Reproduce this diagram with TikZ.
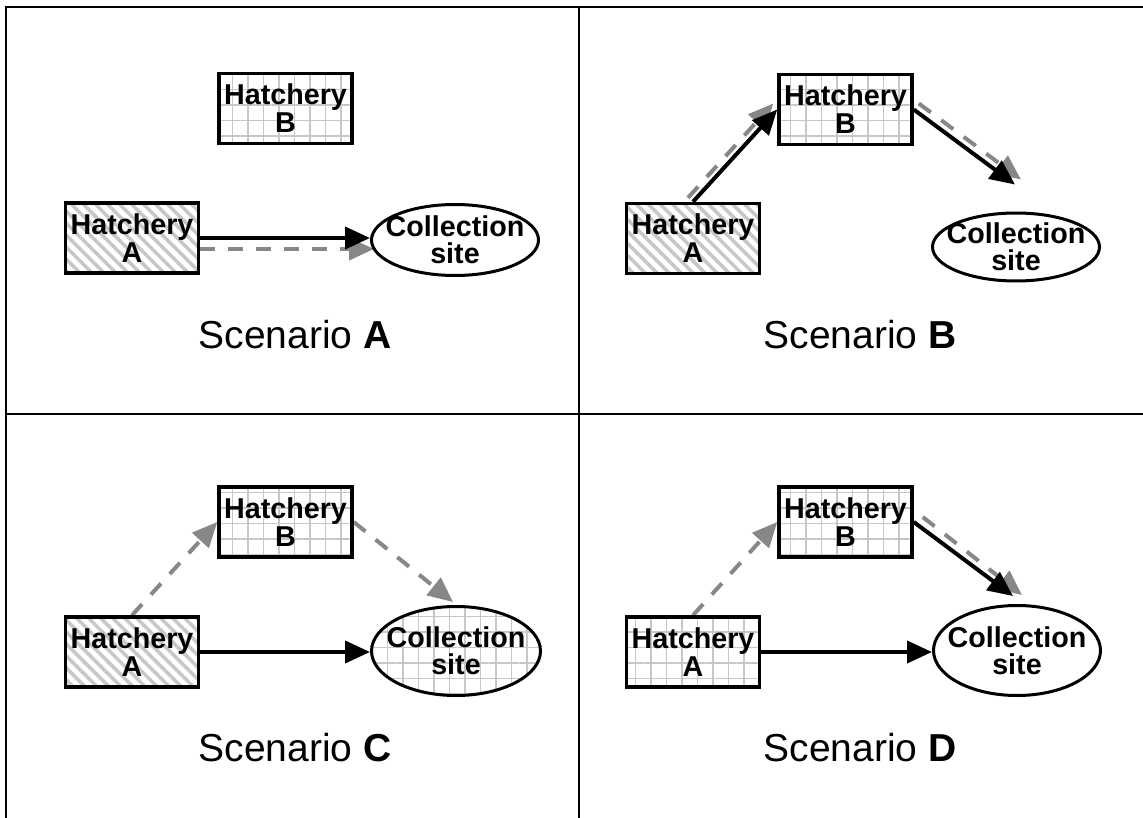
\documentclass[tikz,border=0pt]{standalone}
\usepackage{fontspec}
\setmainfont{Liberation Sans}
\usetikzlibrary{arrows.meta,patterns.meta,shapes.geometric,calc}
\pgfdeclarelayer{bg}
\pgfsetlayers{bg,main}
\begin{document}
\begin{tikzpicture}[x=1pt,y=-1pt,
  hbox/.style={draw, line width=3.5pt, rectangle, minimum width=133pt, minimum height=70pt, inner sep=0pt, align=center, font=\fontsize{28.7}{28}\selectfont\bfseries},
  stripes/.style={preaction={fill=white}, pattern={Lines[angle=-45,distance=8.5pt,line width=3.5pt]}, pattern color=black!22},
  gridfill/.style={preaction={fill=white}, pattern={Hatch[angle=0,distance=15.5pt,line width=1.6pt]}, pattern color=black!22},
  whitefill/.style={fill=white},
  site/.style={draw, ellipse, line width=3pt, inner xsep=-12pt, inner ysep=-2pt, minimum width=167pt, align=center, font=\fontsize{28.7}{27}\selectfont\bfseries},
  solidarrow/.style={line width=4pt, black, -{Triangle[length=25pt,width=22pt]}},
  grayarrow/.style={line width=4pt, black!47, dash pattern=on 15pt off 13pt, -{Triangle[length=25pt,width=22pt]}},
  scencap/.style={anchor=base, inner sep=0pt, font=\fontsize{39}{47}\selectfont},
  divider/.style={line width=2.5pt, black}
]
\useasboundingbox (0,0) rectangle (1143,818);

% ---------- Scenario A ----------
\node[hbox, gridfill] (hbA) at (285.5,108.5) {Hatchery\\B};
\node[hbox, stripes] (haA) at (132,238) {Hatchery\\A};
\node[site, whitefill, minimum height=71pt] (csA) at (455,240) {Collection\\site};
\node[scencap] (capA) at (295,348) {Scenario \textbf{A}};

% ---------- Scenario B ----------
\node[hbox, gridfill] (hbB) at (845.5,109.5) {Hatchery\\B};
\node[hbox, stripes] (haB) at (693,238.5) {Hatchery\\A};
\node[site, whitefill, minimum height=68pt] (csB) at (1016,247) {Collection\\site};
\node[scencap] (capB) at (860,348) {Scenario \textbf{B}};

% ---------- Scenario C ----------
\node[hbox, gridfill] (hbC) at (285.5,522) {Hatchery\\B};
\node[hbox, stripes] (haC) at (132,652) {Hatchery\\A};
\node[site, gridfill, minimum height=89pt, minimum width=169pt] (csC) at (456,651) {Collection\\site};
\node[scencap] (capC) at (295,761) {Scenario \textbf{C}};

% ---------- Scenario D ----------
\node[hbox, gridfill] (hbD) at (845.5,522) {Hatchery\\B};
\node[hbox, gridfill] (haD) at (693,652) {Hatchery\\A};
\node[site, whitefill, minimum height=90pt] (csD) at (1017,650.5) {Collection\\site};
\node[scencap] (capD) at (860,761) {Scenario \textbf{D}};

\begin{pgfonlayer}{bg}
  % frame
  \draw[divider] (6,818) -- (6,7) -- (1143,7);
  \draw[divider] (579,7) -- (579,818);
  \draw[divider] (6,414) -- (1143,414);

  % Scenario A
  \draw[grayarrow] ($(haA.east)+(0,11)$) -- ($(haA.east -| csA.west)+(4,11)$);
  \draw[solidarrow] (haA.east) -- (haA.east -| csA.west);

  % Scenario B
  \draw[grayarrow] ($(haB.north)+(-5,-4)$) -- ($(hbB.west)+(-4,-6)$);
  \draw[solidarrow] (haB.north) -- (hbB.west);
  \draw[grayarrow] ($(hbB.east)+(5,-6)$) -- ($(csB.north)+(5,-32)$);
  \draw[solidarrow] (hbB.east) -- ($(csB.north)+(-1,-27)$);

  % Scenario C
  \draw[grayarrow] (haC.north) -- (hbC.west);
  \draw[grayarrow] (hbC.east) -- ($(csC.north)+(-3,-3)$);
  \draw[solidarrow] (haC.east) -- (haC.east -| csC.west);

  % Scenario D
  \draw[grayarrow] (haD.north) -- (hbD.west);
  \draw[grayarrow] ($(hbD.east)+(9,-5)$) -- ($(csD.north)+(5,-9)$);
  \draw[solidarrow] (hbD.east) -- ($(csD.north)+(-4,-8)$);
  \draw[solidarrow] (haD.east) -- (haD.east -| csD.west);
\end{pgfonlayer}
\end{tikzpicture}
\end{document}
